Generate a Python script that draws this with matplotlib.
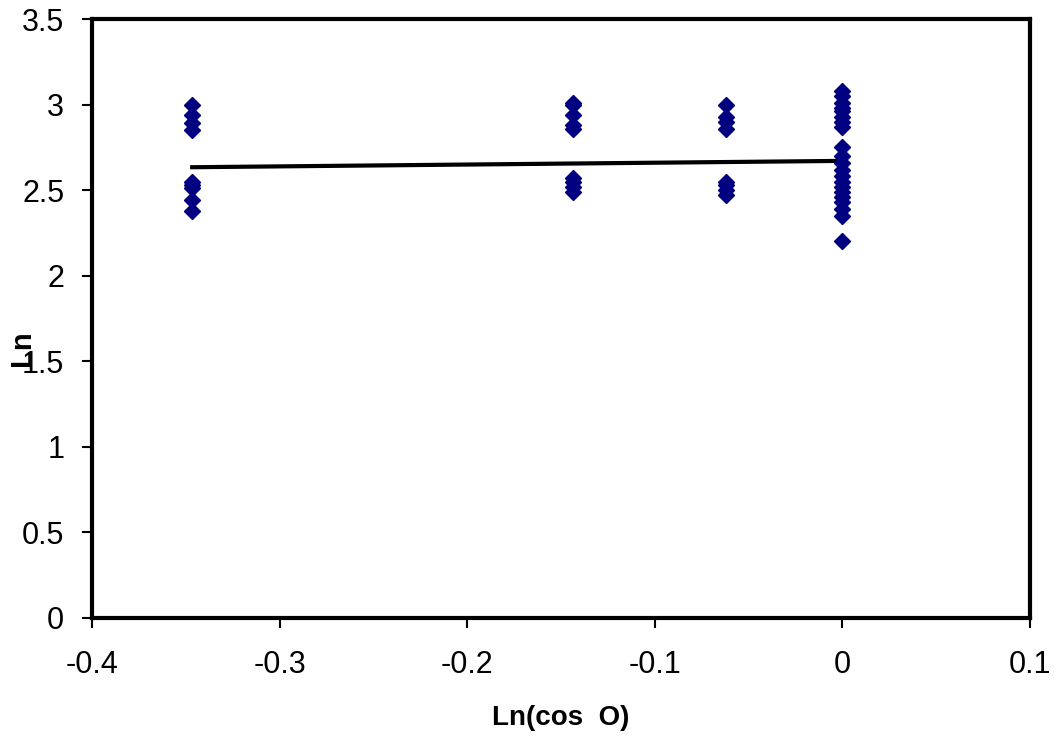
import matplotlib
matplotlib.use("Agg")
import matplotlib.pyplot as plt
import numpy as np

plt.rcParams['font.family'] = ['Liberation Sans', 'DejaVu Sans']

# Observations grouped by ln(cos θ)
x_groups = [-0.3466, -0.1438, -0.0622, 0.0]
y_groups = [
    [3.00, 2.94, 2.89, 2.85, 2.55, 2.53, 2.51, 2.44, 2.38],
    [3.01, 3.00, 2.94, 2.88, 2.86, 2.57, 2.55, 2.52, 2.49],
    [3.00, 2.93, 2.90, 2.86, 2.55, 2.53, 2.50, 2.47],
    [3.08, 3.05, 3.01, 2.98, 2.96, 2.93, 2.90, 2.87,
     2.75, 2.70, 2.66, 2.62, 2.58, 2.55, 2.52, 2.49, 2.46, 2.43, 2.39, 2.35,
     2.20],
]

# Linear trend: Ln = intercept + slope * ln(cos θ)
trend_intercept = 2.671
trend_slope = 0.107

x_ticks = [-0.4, -0.3, -0.2, -0.1, 0, 0.1]
x_tick_labels = ['-0.4', '-0.3', '-0.2', '-0.1', '0', '0.1']
y_ticks = [0, 0.5, 1, 1.5, 2, 2.5, 3, 3.5]
y_tick_labels = ['0', '0.5', '1', '1.5', '2', '2.5', '3', '3.5']

xs = np.concatenate([[xv] * len(ys) for xv, ys in zip(x_groups, y_groups)])
ys = np.concatenate(y_groups)

fig = plt.figure(figsize=(10.54, 7.40), dpi=100)
ax = fig.add_axes([0.0873, 0.1649, 0.8899, 0.8094])

ax.plot(xs, ys, linestyle='none', marker='D', markersize=8.5,
        color='#000080', markeredgecolor='#000080', zorder=3)

tx = np.array([min(x_groups), max(x_groups)])
ax.plot(tx, trend_intercept + trend_slope * tx, color='black', lw=3, zorder=2)

ax.set_xlim(-0.4, 0.1)
ax.set_ylim(0, 3.5)
ax.set_xticks(x_ticks)
ax.set_xticklabels(x_tick_labels)
ax.set_yticks(y_ticks)
ax.set_yticklabels(y_tick_labels)
ax.tick_params(direction='out', length=7, width=1.5, labelsize=22)
ax.tick_params(axis='x', pad=16)
ax.tick_params(axis='y', pad=13)

for sp in ax.spines.values():
    sp.set_linewidth(3)
    sp.set_color('black')

ax.set_xlabel('Ln(cos  O)', fontsize=20, fontweight='bold', labelpad=18)
fig.text(0.021, 0.53, 'Ln', rotation=90, fontsize=21, fontweight='bold',
         ha='center', va='center')

fig.savefig('out.png', dpi=100)
